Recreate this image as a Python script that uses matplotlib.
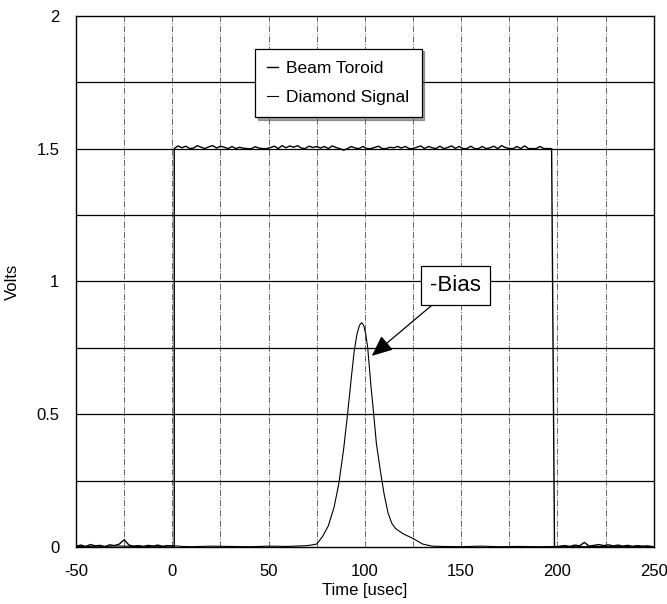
import numpy as np
import matplotlib
matplotlib.use("Agg")
import matplotlib.pyplot as plt

plt.rcParams['font.family'] = ['Liberation Sans', 'DejaVu Sans']

# Beam toroid: baseline before the pulse, flat top, baseline after
toroid_pre_t = np.arange(-50, 1, 2.5)
toroid_pre_v = [0.004, 0.008, 0.003, 0.010, 0.005, 0.007, 0.002, 0.009, 0.006, 0.012,
                0.028, 0.008, 0.004, 0.006, 0.003, 0.007, 0.004, 0.008, 0.003, 0.006, 0.004]
toroid_top_t = np.arange(1, 199, 2)
toroid_top_v = [1.5, 1.510, 1.503, 1.509, 1.500, 1.502, 1.511, 1.505, 1.500, 1.507,
                1.511, 1.502, 1.509, 1.505, 1.500, 1.508, 1.500, 1.505, 1.501, 1.500,
                1.499, 1.507, 1.502, 1.500, 1.500, 1.504, 1.509, 1.500, 1.511, 1.503,
                1.510, 1.505, 1.511, 1.502, 1.500, 1.509, 1.504, 1.508, 1.502, 1.508,
                1.500, 1.510, 1.504, 1.500, 1.494, 1.500, 1.508, 1.502, 1.500, 1.508,
                1.500, 1.500, 1.504, 1.509, 1.500, 1.500, 1.505, 1.503, 1.508, 1.502,
                1.508, 1.500, 1.500, 1.505, 1.510, 1.500, 1.508, 1.503, 1.500, 1.509,
                1.500, 1.504, 1.510, 1.501, 1.508, 1.500, 1.500, 1.509, 1.500, 1.500,
                1.508, 1.500, 1.503, 1.509, 1.500, 1.511, 1.504, 1.500, 1.500, 1.508,
                1.500, 1.510, 1.500, 1.500, 1.500, 1.508, 1.500, 1.500, 1.500]
toroid_post_t = np.arange(199, 251, 2.5)
toroid_post_v = [0.0, 0.004, 0.006, 0.003, 0.008, 0.005, 0.018, 0.004, 0.007, 0.010,
                 0.006, 0.009, 0.005, 0.008, 0.004, 0.007, 0.003, 0.006, 0.004, 0.005, 0.003]

# Diamond signal
diamond_t = [-50, -45, -40, -35, -30, -25, -20, -15, -10, -5, 0, 5, 10, 20, 30, 40, 50,
             60, 70, 72, 75, 78, 81, 84, 86.5, 89, 91, 93, 94.5, 96, 97.2, 98.3, 99.4,
             100.5, 101.5, 103, 104.6, 106, 108, 110, 112, 114, 116, 120, 125, 130,
             135, 140, 150, 160, 170, 180, 190, 200, 210, 220, 230, 240, 250]
diamond_v = [0.003, 0.002, 0.004, 0.003, 0.005, 0.004, 0.003, 0.002, 0.004, 0.003,
             0.006, 0.003, 0.002, 0.004, 0.003, 0.002, 0.004, 0.003, 0.006, 0.008,
             0.012, 0.04, 0.08, 0.15, 0.24, 0.37, 0.5, 0.64, 0.74, 0.805, 0.835,
             0.845, 0.835, 0.80, 0.75, 0.62, 0.5, 0.39, 0.29, 0.2, 0.13, 0.09, 0.07,
             0.05, 0.033, 0.012, 0.004, 0.003, 0.002, 0.004, 0.002, 0.003, 0.002,
             0.003, 0.002, 0.003, 0.002, 0.003, 0.002]

x_ticks = [-50, 0, 50, 100, 150, 200, 250]
y_ticks = [0, 0.5, 1, 1.5, 2]

fig = plt.figure(figsize=(6.67, 6.04), dpi=100)
ax = fig.add_axes([0.114, 0.094, 0.866, 0.88])

for xv in np.arange(-25, 250, 25):
    ax.axvline(xv, color='0.4', linestyle='-.', linewidth=0.7, zorder=1)
for yv in np.arange(0.25, 2, 0.25):
    ax.axhline(yv, color='black', linestyle='-', linewidth=0.9, zorder=1)

toroid_t = np.concatenate([toroid_pre_t, [1.0], toroid_top_t, [198.5], toroid_post_t])
toroid_v = np.concatenate([toroid_pre_v, [0.0], toroid_top_v, [0.0], toroid_post_v])
ax.plot(toroid_t, toroid_v, color='black', linewidth=1.0, label='Beam Toroid', zorder=3)
ax.plot(diamond_t, diamond_v, color='black', linewidth=0.8, label='Diamond Signal', zorder=3)

ax.set_xlim(-50, 250)
ax.set_ylim(0, 2)
ax.set_xticks(x_ticks)
ax.set_xticklabels([str(v) for v in x_ticks])
ax.set_yticks(y_ticks)
ax.set_yticklabels(['0', '0.5', '1', '1.5', '2'])
ax.tick_params(length=0, labelsize=12, pad=12)
for s in ax.spines.values():
    s.set_linewidth(1.0)
    s.set_color('black')

ax.set_xlabel('Time [usec]', fontsize=12, labelpad=3)
ax.set_ylabel('Volts', fontsize=12)
ax.yaxis.set_label_coords(-0.098, 0.5)

leg = ax.legend(loc='upper left', bbox_to_anchor=(0.31, 0.938), fontsize=12.5,
                handlelength=0.6, handletextpad=0.5, frameon=True, fancybox=False,
                shadow=True, borderpad=0.7, labelspacing=0.8, borderaxespad=0)
leg.get_frame().set_edgecolor('black')
leg.get_frame().set_linewidth(0.9)

ax.annotate('-Bias', xy=(103.6, 0.72), xytext=(147, 0.985), fontsize=16,
            ha='center', va='center',
            bbox=dict(boxstyle='square,pad=0.4', fc='white', ec='black', lw=0.9),
            arrowprops=dict(arrowstyle='-|>,head_length=0.8,head_width=0.35',
                            color='black', lw=0.9, shrinkA=0, shrinkB=0),
            zorder=5)

fig.savefig('out.png', dpi=100)
